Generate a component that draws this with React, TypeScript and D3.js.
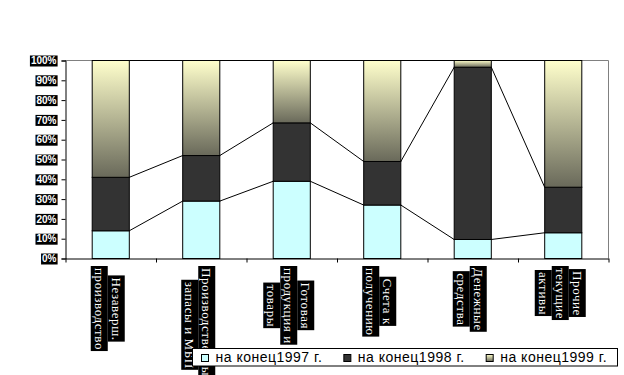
import React, { useEffect, useRef } from "react";
import * as d3 from "d3";

// category labels, already split the way they wrap on the chart
const categories = [
  ["Незаверш.", "производство"],
  ["Производственные", "запасы и МБП"],
  ["Готовая", "продукция и", "товары"],
  ["Счета к", "получению"],
  ["Денежные", "средства"],
  ["Прочие", "текущие", "активы"],
];
const seriesNames = ["на конец1997 г.", "на конец1998 г.", "на конец1999 г."];
// shares in % (each column sums to 100)
const end1997 = [14, 29, 39, 27, 9.6, 13];
const end1998 = [27, 23, 29.5, 22, 87, 23];
const end1999 = [59, 48, 31.5, 51, 3.4, 64];
const yTicks = [0, 10, 20, 30, 40, 50, 60, 70, 80, 90, 100];

export default function App() {
  const ref = useRef<SVGSVGElement>(null);

  useEffect(() => {
    const width = 624;
    const height = 375;
    const margin = { top: 60, right: 16, bottom: 117, left: 65 };
    const x0 = margin.left;
    const x1 = width - margin.right;
    const y0 = margin.top;
    const y1 = height - margin.bottom;

    const svg = d3.select(ref.current);
    svg.selectAll("*").remove(); // strict mode runs this twice

    const keys = ["a", "b", "c"];
    const rows = categories.map((c, i) => ({ a: end1997[i], b: end1998[i], c: end1999[i] }));
    const stacked = d3.stack<any>().keys(keys)(rows);

    const xScale = d3.scaleBand<number>()
      .domain(categories.map((c, i) => i))
      .range([x0, x1])
      .paddingInner(0.59)
      .paddingOuter(0.295);
    const yScale = d3.scaleLinear().domain([0, 100]).range([y1, y0]);

    const defs = svg.append("defs");
    const grad = defs.append("linearGradient").attr("id", "g1999")
      .attr("x1", 0).attr("y1", 0).attr("x2", 0).attr("y2", 1);
    grad.append("stop").attr("offset", "0%").attr("stop-color", "#FFFFCC");
    grad.append("stop").attr("offset", "100%").attr("stop-color", "#69695A");
    const fills = ["#CCFFFF", "#333333", "url(#g1999)"];

    // plot area border (only top + right show up gray)
    svg.append("path")
      .attr("d", `M${x0},${y0 + 0.5}H${x1 + 0.5}V${y1}`)
      .attr("fill", "none").attr("stroke", "#808080");

    // bars
    svg.selectAll("g.series").data(stacked).join("g").attr("class", "series")
      .attr("fill", (d, k) => fills[k])
      .selectAll("rect").data(d => d).join("rect")
      .attr("x", (d, i) => xScale(i)! + 0.5)
      .attr("y", d => yScale(d[1]) + 0.5)
      .attr("width", xScale.bandwidth())
      .attr("height", d => yScale(d[0]) - yScale(d[1]))
      .attr("stroke", "#000").attr("stroke-width", 1);

    // series lines between neighbouring bars
    stacked.forEach(s => {
      for (let i = 0; i < s.length - 1; i++) {
        svg.append("line")
          .attr("x1", xScale(i)! + xScale.bandwidth() + 0.5)
          .attr("y1", yScale(s[i][1]) + 0.5)
          .attr("x2", xScale(i + 1)! + 0.5)
          .attr("y2", yScale(s[i + 1][1]) + 0.5)
          .attr("stroke", "#000").attr("stroke-width", 1);
      }
    });

    // y axis
    const yAxis = svg.append("g")
      .attr("transform", `translate(${x0 + 0.5},0.5)`)
      .call(d3.axisLeft(yScale).tickValues(yTicks).tickSize(4).tickPadding(5).tickFormat(d => d + "%"));
    yAxis.select(".domain").attr("stroke", "#000");
    yAxis.selectAll("text")
      .attr("fill", "#fff")
      .attr("font-family", "'Liberation Sans', Arial, sans-serif")
      .attr("font-size", 10).attr("font-weight", "bold");
    yAxis.selectAll<SVGGElement, number>(".tick").each(function () {
      const t = d3.select(this).select<SVGTextElement>("text");
      const bb = t.node()!.getBBox();
      d3.select(this).insert("rect", "text")
        .attr("x", bb.x - 1).attr("y", -5.5)
        .attr("width", bb.width + 2).attr("height", 11)
        .attr("fill", "#000");
    });

    // x axis, ticks sit between categories
    const xEdge = d3.scaleLinear().domain([0, categories.length]).range([x0, x1]);
    const xAxis = svg.append("g")
      .attr("transform", `translate(0.5,${y1 + 0.5})`)
      .call(d3.axisBottom(xEdge).tickValues(d3.range(categories.length + 1)).tickSize(4).tickSizeOuter(0).tickFormat(() => ""));
    xAxis.select(".domain").attr("stroke", "#000");

    // rotated category labels, white on black like the original
    const lineH = 17;
    categories.forEach((lines, i) => {
      const cx = xScale(i)! + xScale.bandwidth() / 2 - 2.5;
      const g = svg.append("g").attr("transform", `translate(${cx},${y1 + 9}) rotate(90)`);
      const n = lines.length;
      const texts = lines.map((line, j) =>
        g.append("text")
          .attr("y", (j - (n - 1) / 2) * lineH)
          .attr("dy", "0.35em")
          .attr("text-anchor", "middle")
          .attr("font-family", "'Liberation Serif', 'Times New Roman', serif")
          .attr("font-size", 13)
          .attr("letter-spacing", 0.6)
          .attr("fill", "#fff")
          .text(line)
      );
      const lens = texts.map(t => t.node()!.getComputedTextLength());
      const maxLen = d3.max(lens)!;
      texts.forEach((t, j) => {
        t.attr("x", maxLen / 2 + 1);
        g.insert("rect", "text")
          .attr("x", maxLen / 2 - lens[j] / 2 - 1)
          .attr("y", (j - (n - 1) / 2) * lineH - lineH / 2)
          .attr("width", lens[j] + 3)
          .attr("height", lineH)
          .attr("fill", "#000");
      });
    });

    // legend (sits over the long label, same as the original)
    const legend = svg.append("g");
    legend.append("rect")
      .attr("x", 192.5).attr("y", 348.5).attr("width", 425).attr("height", 17.5)
      .attr("fill", "#fff").attr("stroke", "#000");
    let lx = 201.5;
    seriesNames.forEach((name, k) => {
      legend.append("rect")
        .attr("x", lx).attr("y", 354.5).attr("width", 7).attr("height", 7)
        .attr("fill", fills[k]).attr("stroke", "#000");
      const t = legend.append("text")
        .attr("x", lx + 14).attr("y", 362)
        .attr("font-family", "'Liberation Sans', Arial, sans-serif")
        .attr("font-size", 14).attr("letter-spacing", 0.5)
        .attr("fill", "#000")
        .text(name);
      lx += 14 + t.node()!.getComputedTextLength() + 21.5;
    });
  }, []);

  return (
    <svg ref={ref} width={624} height={375}
      style={{ position: "absolute", left: 0, top: 0, background: "#fff" }} />
  );
}
